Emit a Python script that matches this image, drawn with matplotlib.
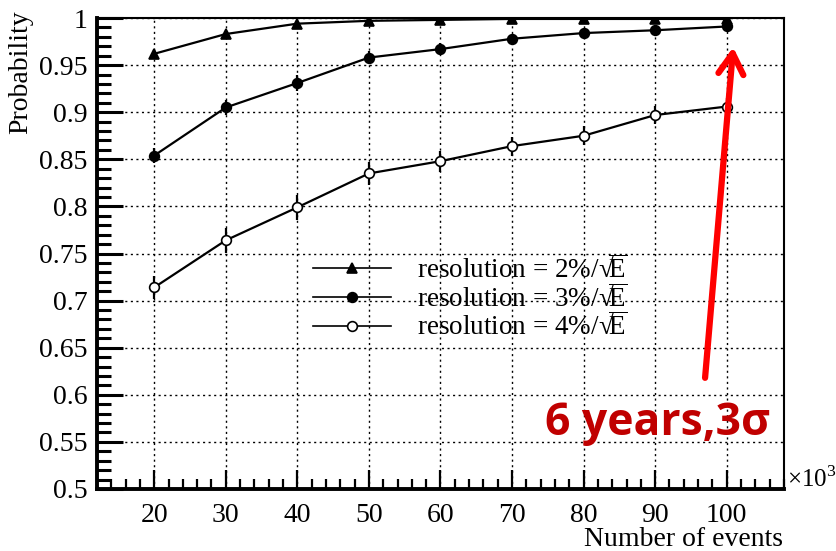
import numpy as np
import matplotlib
matplotlib.use("Agg")
import matplotlib.pyplot as plt
from matplotlib.ticker import MultipleLocator
from matplotlib.lines import Line2D

plt.rcParams["font.family"] = ["Liberation Serif", "DejaVu Serif"]
plt.rcParams["mathtext.fontset"] = "custom"
plt.rcParams["mathtext.rm"] = "Liberation Serif"

events = [20, 30, 40, 50, 60, 70, 80, 90, 100]
p2 = [0.962, 0.983, 0.994, 0.997, 0.998, 0.999, 0.999, 0.999, 0.999]
p3 = [0.854, 0.905, 0.931, 0.958, 0.967, 0.978, 0.984, 0.987, 0.991]
p4 = [0.714, 0.764, 0.799, 0.835, 0.848, 0.864, 0.875, 0.897, 0.906]
e2 = [0.004, 0.003, 0.002, 0.002, 0.001, 0.001, 0.001, 0.001, 0.001]
e3 = [0.008, 0.008, 0.008, 0.007, 0.006, 0.005, 0.005, 0.004, 0.004]
e4 = [0.012, 0.013, 0.013, 0.012, 0.011, 0.010, 0.010, 0.010, 0.009]
labels = ["resolution = 2%/\u221a$\\!\\overline{\\mathrm{E}}$",
          "resolution = 3%/\u221a$\\!\\overline{\\mathrm{E}}$",
          "resolution = 4%/\u221a$\\!\\overline{\\mathrm{E}}$"]
yticks = [0.5, 0.55, 0.6, 0.65, 0.7, 0.75, 0.8, 0.85, 0.9, 0.95, 1.0]

fig = plt.figure(figsize=(8.37, 5.51), dpi=100)
ax = fig.add_axes([97 / 837, 1 - 489 / 551, (784 - 97) / 837, (489 - 18) / 551])

styles = [("^", "k", p2, e2), ("o", "k", p3, e3), ("o", "white", p4, e4)]
handles = []
for (m, fc, p, e), lab in zip(styles, labels):
    ax.errorbar(events, p, yerr=e, color="k", lw=1.6, marker=m, ms=7,
                mfc=fc, mec="k", mew=1.2, elinewidth=1.6, capsize=0)
    handles.append(Line2D([], [], color="k", lw=1.2, marker=m, ms=7, mfc=fc, mec="k", mew=1.2, label=lab))

ax.set_xlim(12, 108)
ax.set_ylim(0.5, 1.0)
ax.set_xticks(events)
ax.xaxis.set_minor_locator(MultipleLocator(2))
ax.set_yticks(yticks)
ax.set_yticklabels(["%g" % v for v in yticks])
ax.yaxis.set_minor_locator(MultipleLocator(0.01))
ax.tick_params(axis="both", which="both", direction="in", labelsize=20, color="k")
ax.tick_params(axis="y", which="major", length=19, width=2.2, pad=7)
ax.tick_params(axis="y", which="minor", length=10, width=2.2)
ax.tick_params(axis="x", which="major", length=14, width=1.6, pad=10)
ax.tick_params(axis="x", which="minor", length=7, width=1.6)
ax.spines["left"].set_linewidth(2.8)
ax.spines["bottom"].set_linewidth(2.8)
ax.spines["top"].set_linewidth(1.5)
ax.spines["right"].set_linewidth(1.5)
ax.grid(True, which="major", ls=(0, (1.5, 2.5)), color="k", lw=1.0)

ax.set_ylabel("Probability", fontsize=20)
ax.yaxis.set_label_coords(-0.093, 0.885)
ax.set_xlabel("Number of events", fontsize=20)
ax.xaxis.set_label_coords(0.854, -0.081)
ax.text(1.004, 0.02, r"$\times10^{3}$", transform=ax.transAxes, fontsize=18, va="center", ha="left")

ax.legend(handles=handles, loc="center left", bbox_to_anchor=(0.314, 0.405), frameon=False,
          fontsize=19.5, handlelength=2.9, handletextpad=0.95, labelspacing=0.0,
          borderpad=0, borderaxespad=0)

ax.annotate("", xy=(100.9, 0.969), xytext=(96.97, 0.618),
            arrowprops=dict(arrowstyle="->,head_length=0.75,head_width=0.45", color="#ff0000",
                            lw=4.5, mutation_scale=20, shrinkA=0, shrinkB=0))
fig.text(545 / 837, 1 - 435 / 551, "6 years,3\u03c3", fontsize=32, fontweight="bold",
         color="#c00000", family=["Open Sans", "DejaVu Sans"])

fig.savefig("out.png", dpi=100)
